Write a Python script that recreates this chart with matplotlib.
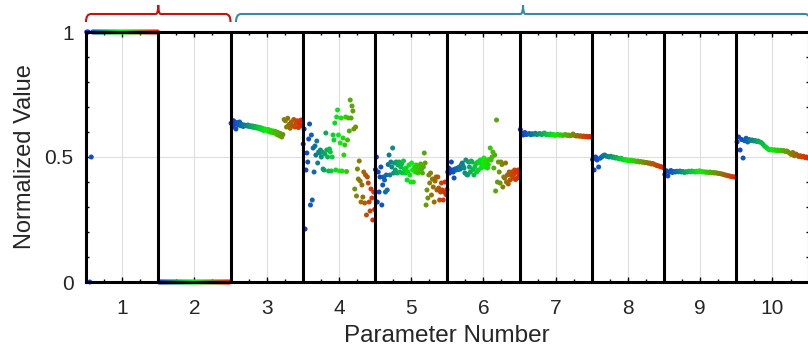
#!/usr/bin/env python3

import numpy as np
import matplotlib.pyplot as plt
from matplotlib.colors import LinearSegmentedColormap
from matplotlib.path import Path
from matplotlib.patches import PathPatch
from matplotlib.ticker import MultipleLocator, FixedLocator


##### data #####
PARAMS = [1, 2, 3, 4, 5, 6, 7, 8, 9, 10]

p1 = [1, 1, 0.0, 0.5,
      1, 1, 1, 1, 1, 1, 1, 1, 1, 1, 1, 1, 1, 1, 1, 1, 1, 1, 1, 1, 1, 1, 1,
      1, 1, 1, 1, 1, 1, 1, 1, 1, 1, 1, 1, 1, 1, 1, 1, 1, 1, 1, 1, 1]

p2 = [0, 0, 0, 0, 0, 0, 0, 0, 0, 0, 0, 0, 0, 0, 0, 0, 0, 0, 0, 0, 0, 0, 0, 0,
      0, 0, 0, 0, 0, 0, 0, 0, 0, 0, 0, 0, 0, 0, 0, 0, 0, 0, 0, 0, 0, 0, 0, 0]

p3 = [0.635, 0.62, 0.645, 0.63, 0.612, 0.638, 0.628, 0.64, 0.625, 0.63,
      0.622, 0.628, 0.626, 0.624, 0.628, 0.622, 0.625, 0.62, 0.624, 0.618,
      0.622, 0.616, 0.62, 0.614, 0.618, 0.61, 0.615, 0.606, 0.612, 0.61,
      0.604, 0.61, 0.6, 0.606, 0.598, 0.604, 0.596, 0.602, 0.59, 0.598,
      0.585, 0.594, 0.58, 0.59, 0.65, 0.645, 0.62, 0.655, 0.63, 0.615,
      0.64, 0.625, 0.65, 0.62, 0.635, 0.645, 0.618, 0.632, 0.648, 0.625]

p4 = [0.552, 0.612, 0.212, 0.448, 0.516, 0.48, 0.572, 0.632, 0.308, 0.588,
      0.328, 0.536, 0.44, 0.544, 0.508, 0.564, 0.476, 0.52, 0.516, 0.528,
      0.5, 0.52, 0.452, 0.448, 0.512, 0.596, 0.528, 0.5, 0.444, 0.532,
      0.52, 0.444, 0.5, 0.588, 0.568, 0.636, 0.448, 0.66, 0.688, 0.588,
      0.444, 0.556, 0.656, 0.444, 0.576, 0.508, 0.548, 0.66, 0.442, 0.568,
      0.656, 0.604, 0.728, 0.656, 0.704, 0.684, 0.612, 0.372, 0.62, 0.344,
      0.452, 0.412, 0.484, 0.404, 0.32, 0.388, 0.34, 0.44, 0.316, 0.428,
      0.268, 0.42, 0.396, 0.32, 0.284, 0.372, 0.336, 0.248, 0.36, 0.29]

p5 = [0.45, 0.5, 0.32, 0.44, 0.36, 0.42, 0.46, 0.308, 0.388, 0.42,
      0.408, 0.36, 0.428, 0.368, 0.47, 0.508, 0.428, 0.48, 0.46, 0.536,
      0.436, 0.476, 0.448, 0.48, 0.436, 0.468, 0.48, 0.44, 0.46, 0.472,
      0.436, 0.484, 0.452, 0.436, 0.456, 0.408, 0.44, 0.468, 0.428, 0.4,
      0.476, 0.448, 0.4, 0.46, 0.44, 0.468, 0.456, 0.436, 0.464, 0.444,
      0.472, 0.452, 0.436, 0.46, 0.516, 0.476, 0.308, 0.368, 0.336, 0.428,
      0.396, 0.436, 0.348, 0.412, 0.38, 0.32, 0.404, 0.42, 0.368, 0.42,
      0.376, 0.328, 0.36, 0.396, 0.368, 0.328, 0.36, 0.4, 0.35, 0.37]

p6 = [0.44, 0.456, 0.436, 0.448, 0.48, 0.448, 0.44, 0.416, 0.452, 0.448,
      0.452, 0.456, 0.45, 0.46, 0.452, 0.468, 0.476, 0.464, 0.456, 0.436,
      0.488, 0.43, 0.428, 0.48, 0.46, 0.44, 0.484, 0.48, 0.45, 0.428,
      0.46, 0.472, 0.44, 0.48, 0.448, 0.476, 0.488, 0.456, 0.466, 0.48,
      0.496, 0.46, 0.476, 0.488, 0.456, 0.47, 0.49, 0.536, 0.488, 0.5,
      0.52, 0.456, 0.508, 0.364, 0.648, 0.4, 0.48, 0.44, 0.396, 0.48,
      0.47, 0.38, 0.42, 0.416, 0.476, 0.4, 0.428, 0.392, 0.44, 0.408,
      0.428, 0.44, 0.416, 0.43, 0.448, 0.41, 0.44, 0.416, 0.448, 0.43]

p7 = [0.61, 0.595, 0.588, 0.598, 0.59, 0.592, 0.594, 0.589, 0.593, 0.591,
      0.595, 0.59, 0.592, 0.594, 0.59, 0.592, 0.596, 0.59, 0.591, 0.589,
      0.592, 0.588, 0.59, 0.586, 0.589, 0.59, 0.587, 0.589, 0.586, 0.588,
      0.59, 0.586, 0.588, 0.585, 0.587, 0.592, 0.586, 0.584, 0.586, 0.583,
      0.585, 0.582, 0.584, 0.581, 0.583, 0.58, 0.582, 0.58]

p8 = [0.49, 0.448, 0.5, 0.488, 0.46, 0.495, 0.5, 0.505, 0.508, 0.504,
      0.502, 0.5, 0.503, 0.499, 0.5, 0.496, 0.498, 0.494, 0.492, 0.495,
      0.49, 0.488, 0.49, 0.486, 0.488, 0.485, 0.487, 0.484, 0.485, 0.482,
      0.484, 0.48, 0.482, 0.479, 0.48, 0.477, 0.478, 0.475, 0.476, 0.472,
      0.474, 0.47, 0.468, 0.465, 0.464, 0.462, 0.46, 0.458]

p9 = [0.43, 0.445, 0.424, 0.44, 0.446, 0.438, 0.442, 0.44, 0.443, 0.441,
      0.444, 0.44, 0.442, 0.438, 0.441, 0.44, 0.443, 0.441, 0.444, 0.442,
      0.44, 0.443, 0.441, 0.445, 0.442, 0.44, 0.441, 0.439, 0.44, 0.438,
      0.44, 0.437, 0.438, 0.436, 0.437, 0.435, 0.434, 0.433, 0.432, 0.43,
      0.428, 0.427, 0.425, 0.424, 0.422, 0.421, 0.42, 0.42]

p10 = [0.56, 0.58, 0.528, 0.57, 0.496, 0.565, 0.575, 0.56, 0.57, 0.566,
       0.568, 0.564, 0.566, 0.562, 0.564, 0.56, 0.558, 0.552, 0.545, 0.54,
       0.535, 0.53, 0.528, 0.53, 0.527, 0.529, 0.526, 0.528, 0.525, 0.527,
       0.524, 0.526, 0.522, 0.524, 0.52, 0.515, 0.51, 0.518, 0.505, 0.512,
       0.508, 0.502, 0.505, 0.5, 0.503, 0.498, 0.5, 0.496]

VALUES = [p1, p2, p3, p4, p5, p6, p7, p8, p9, p10]

# groups marked by braces above the axes: (first param, last param, colour)
GROUPS = [(1, 2, "#c41212"), (3, 10, "#3a8ba0")]


##### style #####
TEXT = "#262626"
plt.rcParams["font.family"] = ["Liberation Sans", "DejaVu Sans"]

cmap = LinearSegmentedColormap.from_list("bgr", ["#1034e8", "#08f008", "#ec2404"])


def draw_brace(ax, x0, x1, color):
    # curly brace in (data x, axes y) coordinates, just above the axes
    y_end, y_line, y_tip = 1.040, 1.072, 1.108
    r, rt = 0.07, 0.035
    xm = 0.5 * (x0 + x1)
    verts = [(x0, y_end), (x0, y_line), (x0 + r, y_line),
             (xm - rt, y_line), (xm, y_line), (xm, y_tip),
             (xm, y_line), (xm + rt, y_line),
             (x1 - r, y_line), (x1, y_line), (x1, y_end)]
    codes = [Path.MOVETO, Path.CURVE3, Path.CURVE3,
             Path.LINETO, Path.CURVE3, Path.CURVE3,
             Path.CURVE3, Path.CURVE3,
             Path.LINETO, Path.CURVE3, Path.CURVE3]
    patch = PathPatch(Path(verts, codes), facecolor="none", edgecolor=color,
                      linewidth=1.5, transform=ax.get_xaxis_transform(),
                      clip_on=False)
    ax.add_patch(patch)


fig = plt.figure(figsize=(8.08, 3.49), dpi=100)
ax = fig.add_axes([86 / 808, 67 / 349, 722.6 / 808, 250 / 349])

for p, vals in zip(PARAMS, VALUES):
    n = len(vals)
    x = p - 0.5 + (np.arange(n) + 0.5) / n
    colors = cmap(np.linspace(0, 1, n))
    ax.scatter(x, vals, s=13, c=colors, edgecolors="none",
               clip_on=False, zorder=2)

# separators between parameters
for p in PARAMS[:-1]:
    ax.axvline(p + 0.5, color="black", linewidth=2.2, zorder=3)

ax.set_xlim(0.5, 10.5)
ax.set_ylim(0, 1)

ax.set_xticks(PARAMS)
ax.xaxis.set_minor_locator(MultipleLocator(0.25))
ax.set_yticks([0, 0.5, 1])
ax.set_yticklabels(["0", "0.5", "1"])
ax.yaxis.set_minor_locator(FixedLocator(np.arange(0.1, 1.0, 0.1)))

ax.tick_params(which="both", direction="in", top=True, right=True,
               color="black", width=1.0, labelcolor=TEXT, labelsize=15)
ax.tick_params(which="major", length=3.5)
ax.tick_params(which="minor", length=2.5)
ax.tick_params(axis="x", pad=12)
ax.tick_params(axis="y", pad=9)

ax.grid(True, which="major", color="#dedede", linewidth=0.8)
ax.set_axisbelow(True)

for sp in ax.spines.values():
    sp.set_linewidth(2.2)
    sp.set_color("black")
    sp.set_zorder(3)

ax.set_xlabel("Parameter Number", fontsize=17.5, color=TEXT, labelpad=5)
ax.set_ylabel("Normalized Value", fontsize=17, color=TEXT, labelpad=6)

for first, last, color in GROUPS:
    x0 = first - 0.5
    x1 = last + 0.5
    if first > 1:
        x0 += 0.076
        x1 += 0.02
    draw_brace(ax, x0, x1, color)

fig.savefig("out.png", dpi=100)
